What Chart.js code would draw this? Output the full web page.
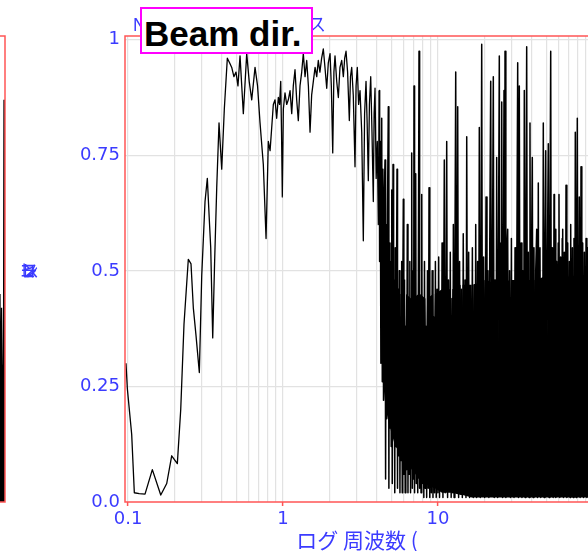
<!DOCTYPE html>
<html lang="ja">
<head>
<meta charset="UTF-8">
<title>Beam dir. coherence</title>
<script src="https://cdn.jsdelivr.net/npm/chart.js"></script>
<style>
  html, body { margin: 0; padding: 0; background: #fff; overflow: hidden; width: 588px; height: 551px; }
  #main { position: absolute; left: 0; top: 0; }
  #side { position: absolute; left: -94px; top: 0; }
  #tag {
    position: absolute; left: 140px; top: 7px; width: 173px; height: 47px;
    box-sizing: border-box; border: 2px solid #ff00ff; background: #fff;
    padding: 3px 0 0 2px; font: bold 35px "Liberation Sans", Arial, sans-serif;
    line-height: 43px; color: #000; white-space: nowrap;
  }
</style>
</head>
<body>
<canvas id="side" width="100" height="551"></canvas>
<canvas id="main" width="600" height="551"></canvas>
<div id="tag">Beam dir.</div>
<script>
// texts
const titleText = 'Nコヒーレンス';
const yTitleText = 'コヒーレンス';
const xTitleText = 'ログ 周波数 (';

// axis ticks
const yTickValues = [0, 0.25, 0.5, 0.75, 1];
const yTickLabels = ['0.0', '0.25', '0.5', '0.75', '1'];
const xGridValues = [0.1, 0.2, 0.3, 0.4, 0.5, 0.6, 0.7, 0.8, 0.9,
                     1, 2, 3, 4, 5, 6, 7, 8, 9,
                     10, 20, 30, 40, 50, 60, 70, 80, 90, 100];
const xMajorValues = [0.1, 1, 10];
const xMajorLabels = ['0.1', '1', '10'];

// coherence, [frequency Hz, coherence]
const lowBand = [
  [0.0970,0.30],[0.0990,0.245],[0.1056,0.146],[0.1098,0.02],[0.1180,0.018],[0.1287,0.017],
  [0.1435,0.07],[0.1626,0.015],[0.1777,0.04],[0.1913,0.10],[0.2080,0.083],[0.2188,0.20],
  [0.2297,0.385],[0.2449,0.525],[0.2549,0.515],[0.2638,0.42],[0.2746,0.36],[0.2884,0.28],
  [0.2989,0.49],[0.3139,0.65],[0.3248,0.70],[0.3346,0.61],[0.3416,0.55],[0.3519,0.355],
  [0.3620,0.52],[0.3735,0.68],[0.3864,0.82],[0.4022,0.72],[0.4181,0.85],[0.4372,0.96],
  [0.4520,0.95],[0.4667,0.94],[0.4820,0.92],[0.4973,0.93],[0.5120,0.90],[0.5280,0.965],
  [0.5545,0.84],[0.5831,0.97],[0.6050,0.91],[0.6283,0.87],[0.6598,0.94],[0.6850,0.90],
  [0.7107,0.82],[0.7463,0.73],[0.7772,0.57],[0.8038,0.78],[0.8250,0.76],[0.8454,0.81],
  [0.8660,0.86],[0.8880,0.87],[0.9100,0.83],[0.9326,0.875],[0.9500,0.86],[0.9664,0.91],
  [0.9780,0.80],[0.9897,0.66]
];
const midBand = [
  [1.005,0.85],[1.030,0.885],[1.056,0.86],[1.082,0.87],[1.110,0.89],[1.138,0.84],[1.165,0.90],
  [1.195,0.935],[1.225,0.87],[1.255,0.825],[1.287,0.90],[1.320,0.93],[1.352,0.97],[1.387,0.92],
  [1.422,0.955],[1.458,0.90],[1.494,0.80],[1.530,0.88],[1.569,0.91],[1.610,0.94],[1.650,0.92],
  [1.689,0.955],[1.730,0.93],[1.775,0.96],[1.820,0.98],[1.865,0.94],[1.914,0.895],[1.960,0.95],
  [2.011,0.97],[2.050,0.90],[2.093,0.755],[2.130,0.93],[2.165,0.965],[2.220,0.91],[2.275,0.875],
  [2.330,0.94],[2.392,0.955],[2.450,0.92],[2.500,0.96],[2.550,0.975],[2.610,0.93],[2.678,0.825],
  [2.725,0.92],[2.775,0.94],[2.840,0.88],[2.914,0.725],[2.960,0.90],[3.015,0.94],[3.075,0.86],
  [3.139,0.89],[3.220,0.80],[3.297,0.565],[3.360,0.84],[3.432,0.91],[3.490,0.82],[3.551,0.695],
  [3.610,0.86],[3.680,0.92],[3.750,0.80],[3.825,0.65],[3.870,0.84],[3.923,0.895],[3.990,0.70],
  [4.058,0.78],[4.120,0.60],[4.181,0.89]
];
const highBand = [
  [4.20,0.52],[4.24,0.78],[4.28,0.30],[4.333,0.83],[4.37,0.26],[4.41,0.72],[4.45,0.22],[4.50,0.66],
  [4.551,0.74],[4.59,0.05],[4.63,0.60],[4.67,0.18],[4.72,0.62],[4.780,0.855],[4.82,0.03],[4.86,0.56],
  [4.90,0.16],[4.95,0.52],[4.99,0.12],[5.028,0.675],[5.07,0.04],[5.125,0.73],[5.17,0.15],[5.22,0.48],
  [5.26,0.02],[5.30,0.55],[5.35,0.12],[5.39,0.44],[5.439,0.72],[5.48,0.03],[5.53,0.46],[5.58,0.10],
  [5.63,0.50],[5.68,0.02],[5.73,0.40],[5.78,0.09],[5.83,0.52],[5.88,0.02],[5.92,0.42],[5.973,0.655],
  [6.02,0.06],[6.08,0.48],[6.14,0.02],[6.20,0.38],[6.26,0.07],[6.338,0.60],[6.40,0.02],[6.46,0.44],
  [6.52,0.06],[6.58,0.52],[6.65,0.02],[6.70,0.40],[6.765,0.755],[6.83,0.03],[6.90,0.50],[6.95,0.05],
  [7.000,0.90],[7.06,0.02],[7.12,0.46],[7.179,0.71],[7.25,0.04],[7.32,0.36],[7.40,0.02],[7.47,0.50],
  [7.541,0.975],[7.61,0.03],[7.70,0.44],[7.77,0.02],[7.850,0.665],[7.93,0.04],[8.01,0.42],[8.10,0.01],
  [8.18,0.52],[8.27,0.03],[8.36,0.38],[8.45,0.01],[8.55,0.50],[8.65,0.03],[8.751,0.68],[8.85,0.01],
  [8.95,0.44],[9.06,0.02],[9.17,0.50],[9.28,0.01],[9.39,0.40],[9.50,0.02],[9.62,0.52],[9.74,0.01],
  [9.86,0.46],[9.98,0.02],[10.10,0.53],[10.23,0.01],[10.36,0.42],[10.49,0.03],[10.62,0.56],[10.76,0.01],
  [10.98,0.74],[11.13,0.02],[11.38,0.78],[11.53,0.01],[11.68,0.48],[11.84,0.03],[12.00,0.54],[12.16,0.01],
  [12.33,0.44],[12.45,0.02],[12.56,0.60],[12.70,0.01],[12.85,0.50],[13.01,0.93],[13.18,0.02],[13.40,0.855],
  [13.58,0.01],[13.78,0.52],[13.96,0.02],[14.15,0.46],[14.35,0.01],[14.55,0.58],[14.75,0.03],[14.95,0.48],
  [15.15,0.01],[15.32,0.79],[15.55,0.02],[15.77,0.54],[15.98,0.01],[16.20,0.44],[16.43,0.02],[16.66,0.55],
  [16.90,0.01],[17.13,0.47],[17.31,0.02],[17.51,0.60],[17.75,0.01],[18.00,0.52],[18.23,0.02],[18.47,0.81],
  [18.75,0.01],[19.14,0.99],[19.40,0.02],[19.70,0.53],[20.00,0.01],[20.41,0.66],[20.70,0.02],[21.00,0.50],
  [21.30,0.01],[21.58,0.57],[21.88,0.91],[22.20,0.02],[22.45,0.52],[22.74,0.92],[23.05,0.01],[23.35,0.48],
  [23.62,0.02],[23.91,0.745],[24.25,0.01],[24.55,0.55],[24.86,0.965],[25.20,0.02],[25.50,0.56],[25.77,0.865],
  [26.10,0.01],[26.40,0.50],[26.66,0.89],[26.85,0.02],[27.06,0.975],[27.40,0.01],[27.80,0.54],[28.16,0.59],
  [28.55,0.02],[28.95,0.50],[29.35,0.01],[29.75,0.57],[30.15,0.02],[30.55,0.46],[30.95,0.01],[31.40,0.55],
  [31.80,0.02],[32.25,0.52],[32.67,0.95],[33.05,0.01],[33.46,0.90],[33.90,0.02],[34.35,0.56],[34.80,0.01],
  [35.25,0.50],[35.65,0.02],[36.04,0.89],[36.50,0.01],[36.90,0.57],[37.34,0.985],[37.80,0.02],[38.25,0.54],
  [38.70,0.01],[39.21,0.82],[39.70,0.02],[40.10,0.52],[40.59,0.745],[41.10,0.01],[41.60,0.55],[42.10,0.02],
  [42.70,0.50],[43.33,0.59],[43.85,0.01],[44.37,0.69],[44.90,0.02],[45.50,0.55],[46.05,0.01],[46.60,0.48],
  [47.20,0.02],[47.79,0.82],[48.40,0.01],[49.00,0.56],[49.52,0.76],[50.15,0.02],[50.80,0.53],[51.48,0.775],
  [52.10,0.01],[52.70,0.57],[53.35,0.975],[54.00,0.02],[54.70,0.55],[55.35,0.01],[56.03,0.665],[56.45,0.02],
  [56.87,0.59],[57.55,0.01],[58.25,0.52],[58.95,0.02],[59.65,0.56],[60.34,0.665],[61.10,0.01],[61.85,0.53],
  [62.60,0.02],[63.30,0.57],[63.75,0.59],[64.50,0.01],[65.30,0.54],[66.10,0.02],[66.97,0.685],[67.80,0.01],
  [68.65,0.56],[69.50,0.02],[70.40,0.52],[71.20,0.01],[71.81,0.60],[72.70,0.02],[73.60,0.55],[74.50,0.01],
  [75.40,0.57],[76.20,0.02],[76.88,0.80],[77.90,0.01],[78.60,0.55],[79.20,0.83],[80.20,0.02],[81.58,0.66],
  [82.60,0.01],[83.68,0.725],[84.70,0.02],[85.80,0.56],[86.90,0.01],[88.00,0.54],[89.10,0.02],[90.20,0.57],
  [91.30,0.01],[92.50,0.55],[93.70,0.02],[95.00,0.58],[96.20,0.01],[97.50,0.54],[98.80,0.02],[100,0.50]
];

// where the high-frequency trace is so dense it reads as solid black: [Hz, lower, upper]
const solidMass = [
  [4.22,0.45,0.62],[4.35,0.30,0.64],[4.40,0.27,0.50],[4.45,0.25,0.60],[4.6,0.20,0.55],[4.75,0.18,0.52],
  [4.80,0.17,0.38],[4.85,0.17,0.50],[5.0,0.15,0.48],[5.2,0.13,0.47],[5.25,0.13,0.35],[5.32,0.12,0.47],
  [5.6,0.11,0.46],[5.65,0.11,0.32],[5.72,0.10,0.45],[6.1,0.09,0.45],[6.16,0.09,0.34],[6.22,0.09,0.45],
  [6.7,0.07,0.44],[6.77,0.07,0.30],[6.84,0.07,0.44],[7.5,0.05,0.45],[7.58,0.05,0.36],[7.66,0.05,0.45],
  [8.3,0.04,0.44],[8.4,0.04,0.30],[8.5,0.04,0.44],[9.3,0.03,0.45],[9.42,0.03,0.33],[9.54,0.03,0.45],
  [10.6,0.02,0.46],[10.75,0.02,0.35],[10.9,0.02,0.46],[12.0,0.02,0.46],[12.18,0.02,0.30],[12.36,0.02,0.46],
  [14.0,0.015,0.47],[14.2,0.015,0.37],[14.4,0.015,0.47],[16.5,0.01,0.47],[16.75,0.01,0.34],[17.0,0.01,0.47],
  [20.0,0.01,0.48],[20.3,0.01,0.36],[20.6,0.01,0.48],[24.0,0.01,0.47],[24.35,0.01,0.33],[24.7,0.01,0.47],
  [29,0.01,0.48],[29.45,0.01,0.38],[29.9,0.01,0.48],[35,0.01,0.48],[35.5,0.01,0.34],[36.0,0.01,0.48],
  [42,0.01,0.48],[42.6,0.01,0.37],[43.2,0.01,0.48],[50,0.01,0.49],[50.75,0.01,0.36],[51.5,0.01,0.49],
  [60,0.01,0.48],[60.9,0.01,0.38],[61.8,0.01,0.48],[72,0.01,0.49],[73.1,0.01,0.35],[74.2,0.01,0.49],
  [87,0.01,0.48],[88.3,0.01,0.37],[89.6,0.01,0.48],[100,0.01,0.48]
];

// the right end of the neighbouring panel that shows at the left edge
const sidePanel = [
  [0.90,0.05],[0.94,0.15],[0.949,0.45],[0.955,0.20],[0.965,0.42],[0.975,0.22],
  [0.985,0.30],[0.99,0.87],[0.995,0.22],[1.0,0.25]
];

const blue = '#3b3bff';
const frameRed = 'rgb(255,85,85)';
const gridGray = '#e2e2e2';
const tickFont = { family: '"DejaVu Sans", sans-serif', size: 18 };

const toXY = (pts) => pts.map(([f, v]) => ({ x: f, y: v }));

// red frame around the plot area
const framePlugin = {
    id: 'frame',
    afterDatasetsDraw(chart) {
        const { ctx, chartArea: a } = chart;
        ctx.save();
        ctx.strokeStyle = frameRed;
        ctx.lineWidth = 1.5;
        ctx.strokeRect(a.left, a.top, a.right - a.left, a.bottom - a.top);
        ctx.restore();
    }
};

// title, axis titles
const textPlugin = {
    id: 'texts',
    afterDraw(chart) {
        const ctx = chart.ctx;
        ctx.save();
        ctx.fillStyle = blue;

        // title, spread out (mostly hidden behind the label box)
        ctx.font = '18px "Liberation Sans", "Noto Sans CJK JP", sans-serif';
        ctx.textBaseline = 'alphabetic';
        let x = 133;
        for (const ch of titleText) {
            ctx.fillText(ch, x, 31);
            x += ctx.measureText(ch).width + 12;
        }

        // x title
        ctx.font = '21px "Noto Sans CJK JP", sans-serif';
        ctx.textAlign = 'center';
        ctx.fillText(xTitleText, 357, 548);

        // y title: glyphs drawn on top of each other
        ctx.font = '17px "Noto Sans CJK JP", sans-serif';
        ctx.textAlign = 'left';
        ctx.textBaseline = 'middle';
        [...yTitleText].forEach((ch, i) => ctx.fillText(ch, 19 + i * 0.6, 271));
        ctx.restore();
    }
};

const lineStyle = {
    borderColor: '#000',
    borderJoinStyle: 'round',
    pointRadius: 0,
    tension: 0
};

new Chart(document.getElementById('main'), {
    type: 'line',
    data: {
        datasets: [
            {
                label: 'coherence',
                data: toXY([...lowBand, ...midBand]),
                borderWidth: 1.3,
                fill: false,
                ...lineStyle
            },
            {
                label: 'coherence (dense)',
                data: toXY([midBand[midBand.length - 1], ...highBand]),
                borderWidth: 1.5,
                fill: false,
                ...lineStyle
            },
            {
                label: 'mass lower',
                data: solidMass.map(([f, lo]) => ({ x: f, y: lo })),
                borderWidth: 0,
                fill: false,
                ...lineStyle
            },
            {
                label: 'mass upper',
                data: solidMass.map(([f, lo, hi]) => ({ x: f, y: hi })),
                borderWidth: 0,
                backgroundColor: '#000',
                fill: '-1',
                ...lineStyle
            }
        ]
    },
    options: {
        responsive: false,
        animation: false,
        layout: { padding: { top: 36, right: 7, left: 0, bottom: 0 } },
        plugins: { legend: { display: false }, tooltip: { enabled: false } },
        scales: {
            x: {
                type: 'logarithmic',
                min: 0.0956,
                max: 100,
                afterBuildTicks: (axis) => { axis.ticks = xGridValues.map(v => ({ value: v })); },
                afterFit: (s) => { s.height = 49; },
                border: { display: false },
                grid: {
                    color: gridGray,
                    lineWidth: 1.2,
                    drawTicks: true,
                    tickLength: 4,
                    tickWidth: 1.5,
                    tickColor: (c) => xMajorValues.includes(c.tick && c.tick.value) ? frameRed : 'rgba(0,0,0,0)'
                },
                ticks: {
                    autoSkip: false,
                    maxRotation: 0,
                    padding: 3,
                    color: blue,
                    font: tickFont,
                    callback: (v) => {
                        const i = xMajorValues.indexOf(v);
                        return i >= 0 ? xMajorLabels[i] : '';
                    }
                }
            },
            y: {
                type: 'linear',
                min: 0,
                max: 1.008,
                afterBuildTicks: (axis) => { axis.ticks = yTickValues.map(v => ({ value: v })); },
                afterFit: (s) => { s.width = 125; },
                border: { display: false },
                grid: {
                    color: (c) => (c.tick && c.tick.value === 0) ? 'rgba(0,0,0,0)' : gridGray,
                    lineWidth: 1.2,
                    drawTicks: false
                },
                ticks: {
                    padding: 5,
                    color: blue,
                    font: tickFont,
                    callback: (v) => yTickLabels[yTickValues.indexOf(v)]
                }
            }
        }
    },
    plugins: [framePlugin, textPlugin]
});

// neighbouring panel, only its right edge is visible
new Chart(document.getElementById('side'), {
    type: 'line',
    data: {
        datasets: [{
            data: toXY(sidePanel),
            borderColor: '#000',
            borderWidth: 1.3,
            backgroundColor: '#000',
            pointRadius: 0,
            tension: 0,
            fill: 'origin'
        }]
    },
    options: {
        responsive: false,
        animation: false,
        layout: { padding: { top: 36, right: 1, left: 0, bottom: 49 } },
        plugins: { legend: { display: false }, tooltip: { enabled: false } },
        scales: {
            x: { type: 'linear', min: 0, max: 1, display: false },
            y: { type: 'linear', min: 0, max: 1.008, display: false }
        }
    },
    plugins: [framePlugin]
});
</script>
</body>
</html>
